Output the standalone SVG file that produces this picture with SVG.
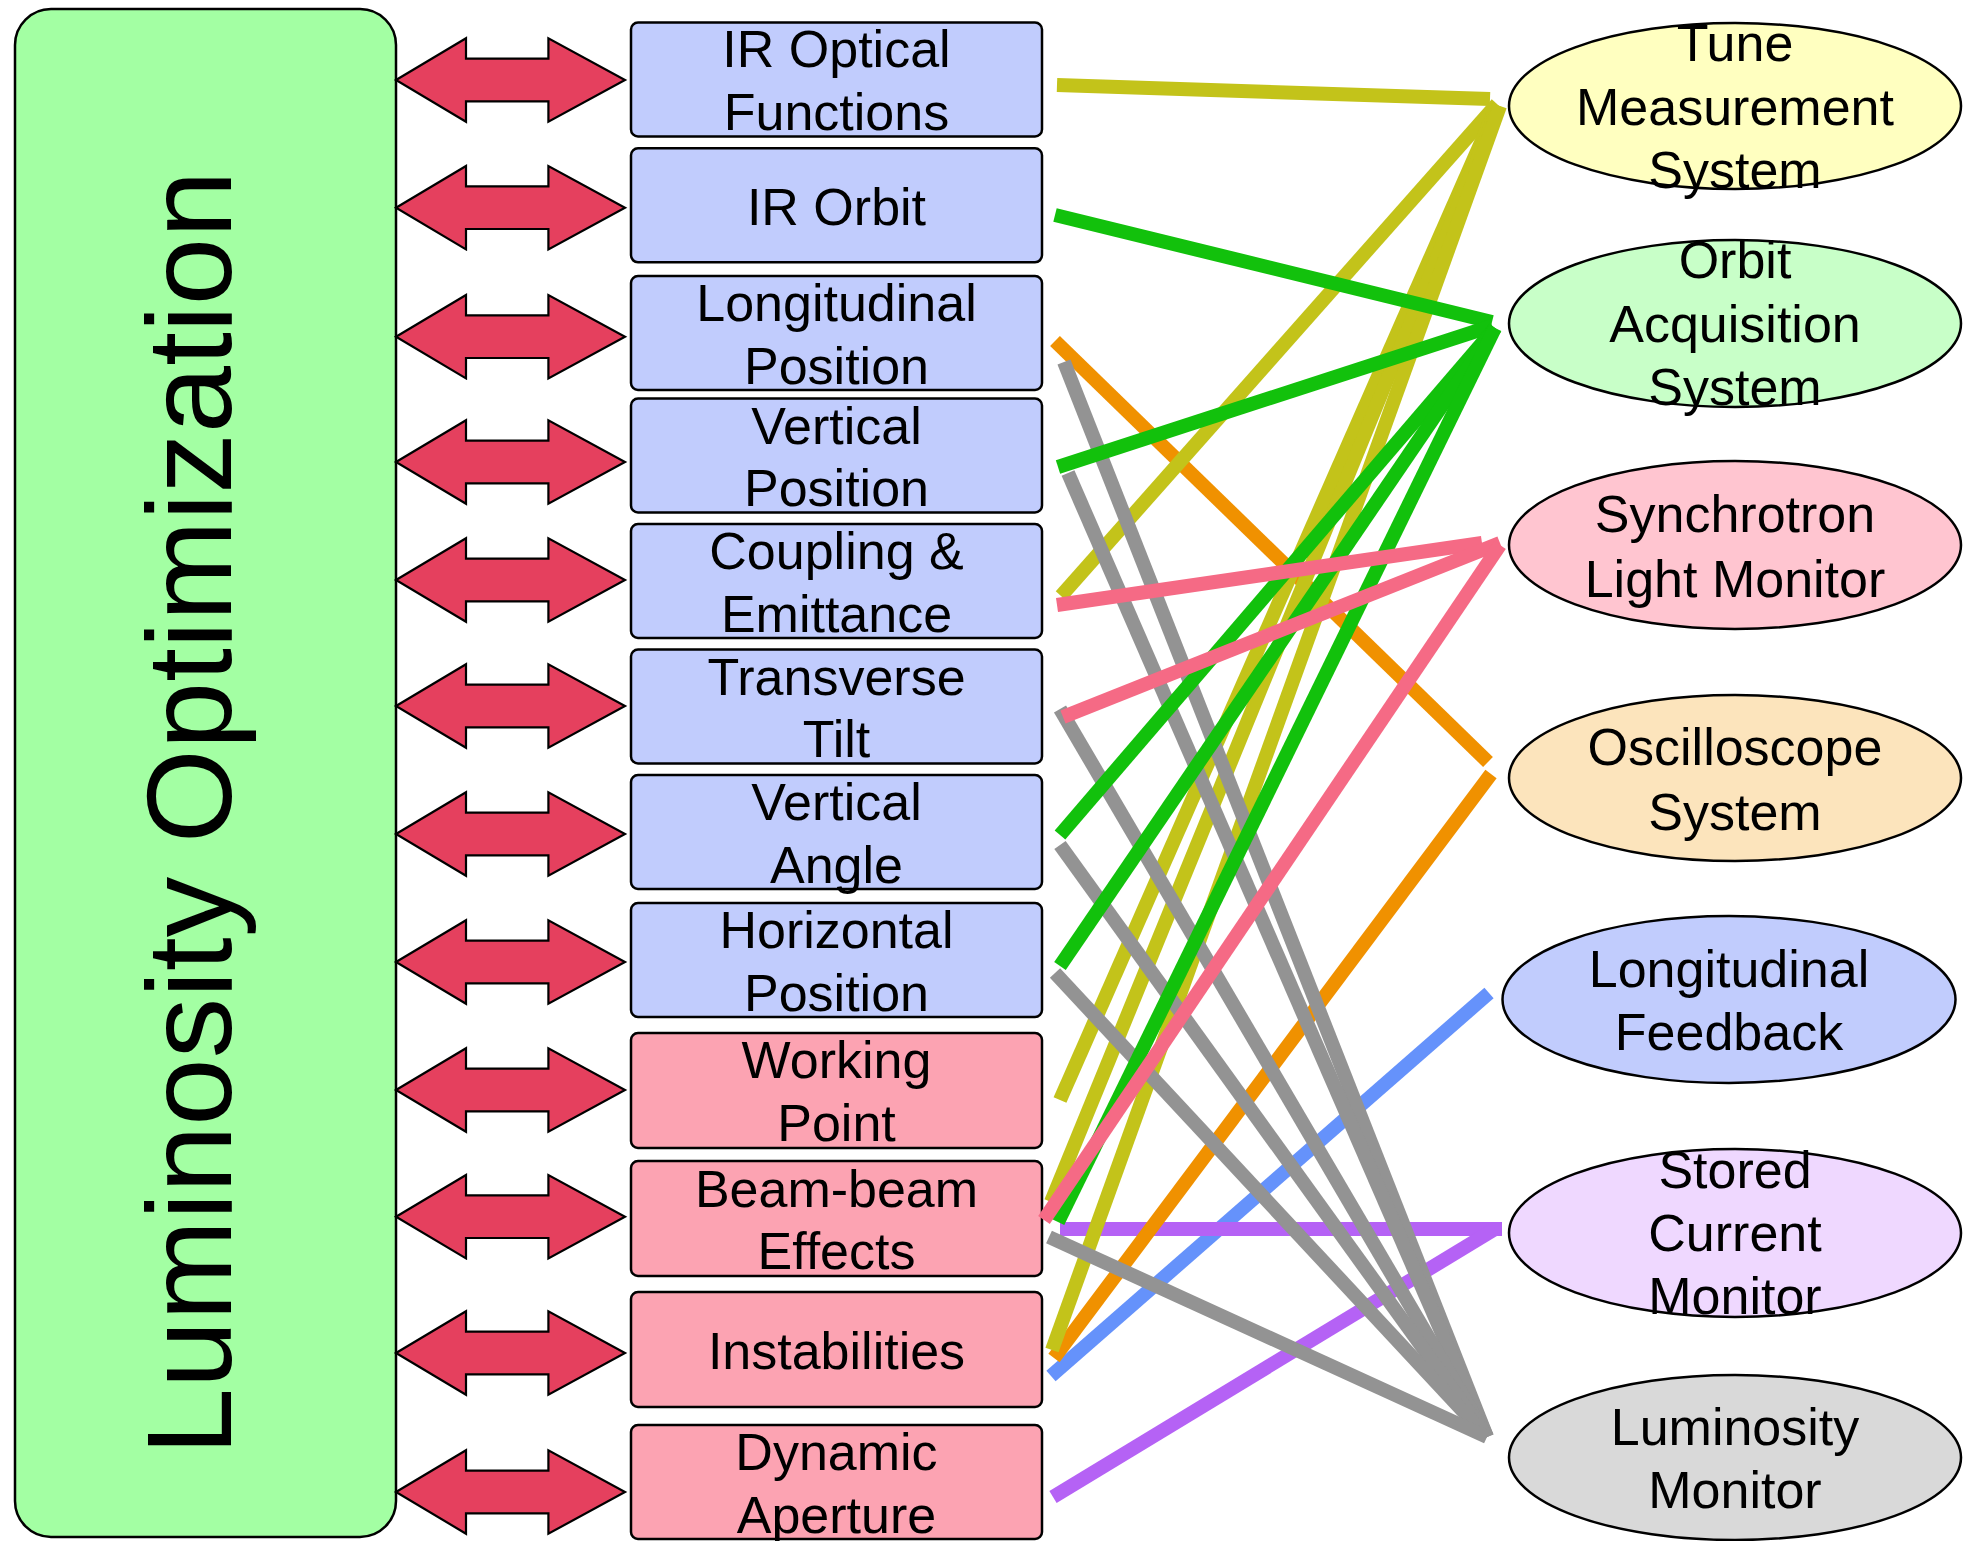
<svg xmlns="http://www.w3.org/2000/svg" xmlns:xlink="http://www.w3.org/1999/xlink" width="1966" height="1541" viewBox="0 0 1966 1541">
<style>
text{font-family:"Liberation Sans",Arial,sans-serif;fill:#000;text-anchor:middle}
.t{font-size:52px}
.big{font-size:121px}
.bb{fill:#C1CCFD;stroke:#000;stroke-width:2.5}
.pb{fill:#FCA3B2;stroke:#000;stroke-width:2.5}
.el{stroke:#000;stroke-width:2.5}
.arr{fill:#E5405E;stroke:#000;stroke-width:2.2;stroke-linejoin:miter}
.c line{stroke-width:14;stroke-linecap:butt;fill:none}
.ol{stroke:#C3C31A}.gr{stroke:#12C10C}.or{stroke:#F09100}.pk{stroke:#F56A85}.gy{stroke:#939393}.bl{stroke:#6592FB}.pu{stroke:#B562F5}
</style>
<defs>
<path id="arr" class="arr" d="M396,0 L466,-41.7 L466,-21.3 L548.4,-21.3 L548.4,-41.7 L625,0 L548.4,41.7 L548.4,21.3 L466,21.3 L466,41.7 Z"/>
</defs>
<g id="panel">
<rect x="15" y="9" width="381" height="1528" rx="36" ry="36" fill="#A3FFA3" stroke="#000" stroke-width="2.5"/>
<text class="big" transform="translate(231,813) rotate(-90)">Luminosity Optimization</text>
</g>
<g id="arrows">
<use xlink:href="#arr" y="80"/>
<use xlink:href="#arr" y="207.7"/>
<use xlink:href="#arr" y="336.7"/>
<use xlink:href="#arr" y="462"/>
<use xlink:href="#arr" y="580"/>
<use xlink:href="#arr" y="706"/>
<use xlink:href="#arr" y="834"/>
<use xlink:href="#arr" y="962"/>
<use xlink:href="#arr" y="1090"/>
<use xlink:href="#arr" y="1216.7"/>
<use xlink:href="#arr" y="1353"/>
<use xlink:href="#arr" y="1492"/>
</g>
<g id="box-ir-optical"><rect class="bb" x="631" y="22.5" width="411" height="114" rx="7"/><text class="t" x="836.5" y="67">IR Optical</text><text class="t" x="836.5" y="130">Functions</text></g>
<g id="box-ir-orbit"><rect class="bb" x="631" y="148.3" width="411" height="114" rx="7"/><text class="t" x="836.5" y="225">IR Orbit</text></g>
<g id="box-long-pos"><rect class="bb" x="631" y="276" width="411" height="114" rx="7"/><text class="t" x="836.5" y="321">Longitudinal</text><text class="t" x="836.5" y="383.5">Position</text></g>
<g id="box-vert-pos"><rect class="bb" x="631" y="398.5" width="411" height="114" rx="7"/><text class="t" x="836.5" y="443.5">Vertical</text><text class="t" x="836.5" y="506">Position</text></g>
<g id="box-coupling"><rect class="bb" x="631" y="524" width="411" height="114" rx="7"/><text class="t" x="836.5" y="569">Coupling &amp;</text><text class="t" x="836.5" y="631.5">Emittance</text></g>
<g id="box-tilt"><rect class="bb" x="631" y="649.5" width="411" height="114" rx="7"/><text class="t" x="836.5" y="694.5">Transverse</text><text class="t" x="836.5" y="757">Tilt</text></g>
<g id="box-vert-angle"><rect class="bb" x="631" y="775" width="411" height="114" rx="7"/><text class="t" x="836.5" y="820">Vertical</text><text class="t" x="836.5" y="882.5">Angle</text></g>
<g id="box-horiz-pos"><rect class="bb" x="631" y="903" width="411" height="114" rx="7"/><text class="t" x="836.5" y="948">Horizontal</text><text class="t" x="836.5" y="1010.5">Position</text></g>
<g id="box-working"><rect class="pb" x="631" y="1033" width="411" height="115" rx="7"/><text class="t" x="836.5" y="1078">Working</text><text class="t" x="836.5" y="1140.5">Point</text></g>
<g id="box-beambeam"><rect class="pb" x="631" y="1161" width="411" height="115" rx="7"/><text class="t" x="836.5" y="1206.5">Beam-beam</text><text class="t" x="836.5" y="1269">Effects</text></g>
<g id="box-instab"><rect class="pb" x="631" y="1292" width="411" height="115" rx="7"/><text class="t" x="836.5" y="1369">Instabilities</text></g>
<g id="box-dynamic"><rect class="pb" x="631" y="1425" width="411" height="114" rx="7"/><text class="t" x="836.5" y="1470">Dynamic</text><text class="t" x="836.5" y="1532.5">Aperture</text></g>
<g id="connectors" class="c">
<line class="bl" x1="1051" y1="1376" x2="1489" y2="993"/>
<line class="pu" x1="1060" y1="1229" x2="1502" y2="1229"/>
<line class="pu" x1="1053" y1="1497" x2="1495" y2="1229"/>
<line class="or" x1="1055" y1="341" x2="1488" y2="762"/>
<line class="or" x1="1054" y1="1358" x2="1491" y2="774"/>
<line class="ol" x1="1057" y1="85" x2="1490" y2="99"/>
<line class="ol" x1="1061" y1="596" x2="1497" y2="104"/>
<line class="ol" x1="1060" y1="1100" x2="1497" y2="106"/>
<line class="ol" x1="1051" y1="1202" x2="1499" y2="106"/>
<line class="ol" x1="1052" y1="1350" x2="1500" y2="106"/>
<line class="gy" x1="1064" y1="362" x2="1487" y2="1437"/>
<line class="gy" x1="1068" y1="473" x2="1487" y2="1437"/>
<line class="gy" x1="1060" y1="709" x2="1487" y2="1437"/>
<line class="gy" x1="1060" y1="845" x2="1487" y2="1437"/>
<line class="gy" x1="1055" y1="973" x2="1487" y2="1437"/>
<line class="gy" x1="1049" y1="1237" x2="1487" y2="1437"/>
<line class="gr" x1="1055" y1="215" x2="1492" y2="322"/>
<line class="gr" x1="1058" y1="467" x2="1492" y2="326"/>
<line class="gr" x1="1060" y1="835" x2="1495" y2="328"/>
<line class="gr" x1="1060" y1="966" x2="1495" y2="328"/>
<line class="gr" x1="1058" y1="1222" x2="1495" y2="328"/>
<line class="pk" x1="1057" y1="605" x2="1482" y2="543"/>
<line class="pk" x1="1063" y1="717" x2="1500" y2="543"/>
<line class="pk" x1="1044" y1="1220" x2="1500" y2="545"/>
</g>
<g id="ell-tune"><ellipse class="el" fill="#FFFFC0" cx="1735" cy="106" rx="226" ry="83"/><text class="t" x="1735" y="61">Tune</text><text class="t" x="1735" y="125">Measurement</text><text class="t" x="1735" y="188">System</text></g>
<g id="ell-orbit"><ellipse class="el" fill="#C8FFC8" cx="1735" cy="323.5" rx="226" ry="83.5"/><text class="t" x="1735" y="278">Orbit</text><text class="t" x="1735" y="342">Acquisition</text><text class="t" x="1735" y="405">System</text></g>
<g id="ell-sync"><ellipse class="el" fill="#FFC5D0" cx="1735" cy="545" rx="226" ry="84"/><text class="t" x="1735" y="532">Synchrotron</text><text class="t" x="1735" y="597">Light Monitor</text></g>
<g id="ell-osc"><ellipse class="el" fill="#FCE4BC" cx="1735" cy="778" rx="226" ry="83"/><text class="t" x="1735" y="765">Oscilloscope</text><text class="t" x="1735" y="830">System</text></g>
<g id="ell-lf"><ellipse class="el" fill="#C1CCFD" cx="1729" cy="999.5" rx="226.5" ry="83.5"/><text class="t" x="1729" y="987">Longitudinal</text><text class="t" x="1729" y="1050">Feedback</text></g>
<g id="ell-stored"><ellipse class="el" fill="#EFD8FF" cx="1735" cy="1233" rx="226" ry="84"/><text class="t" x="1735" y="1188">Stored</text><text class="t" x="1735" y="1251">Current</text><text class="t" x="1735" y="1314">Monitor</text></g>
<g id="ell-lum"><ellipse class="el" fill="#D9D9D9" cx="1735" cy="1457.5" rx="226" ry="82.5"/><text class="t" x="1735" y="1445">Luminosity</text><text class="t" x="1735" y="1508">Monitor</text></g>
</svg>
